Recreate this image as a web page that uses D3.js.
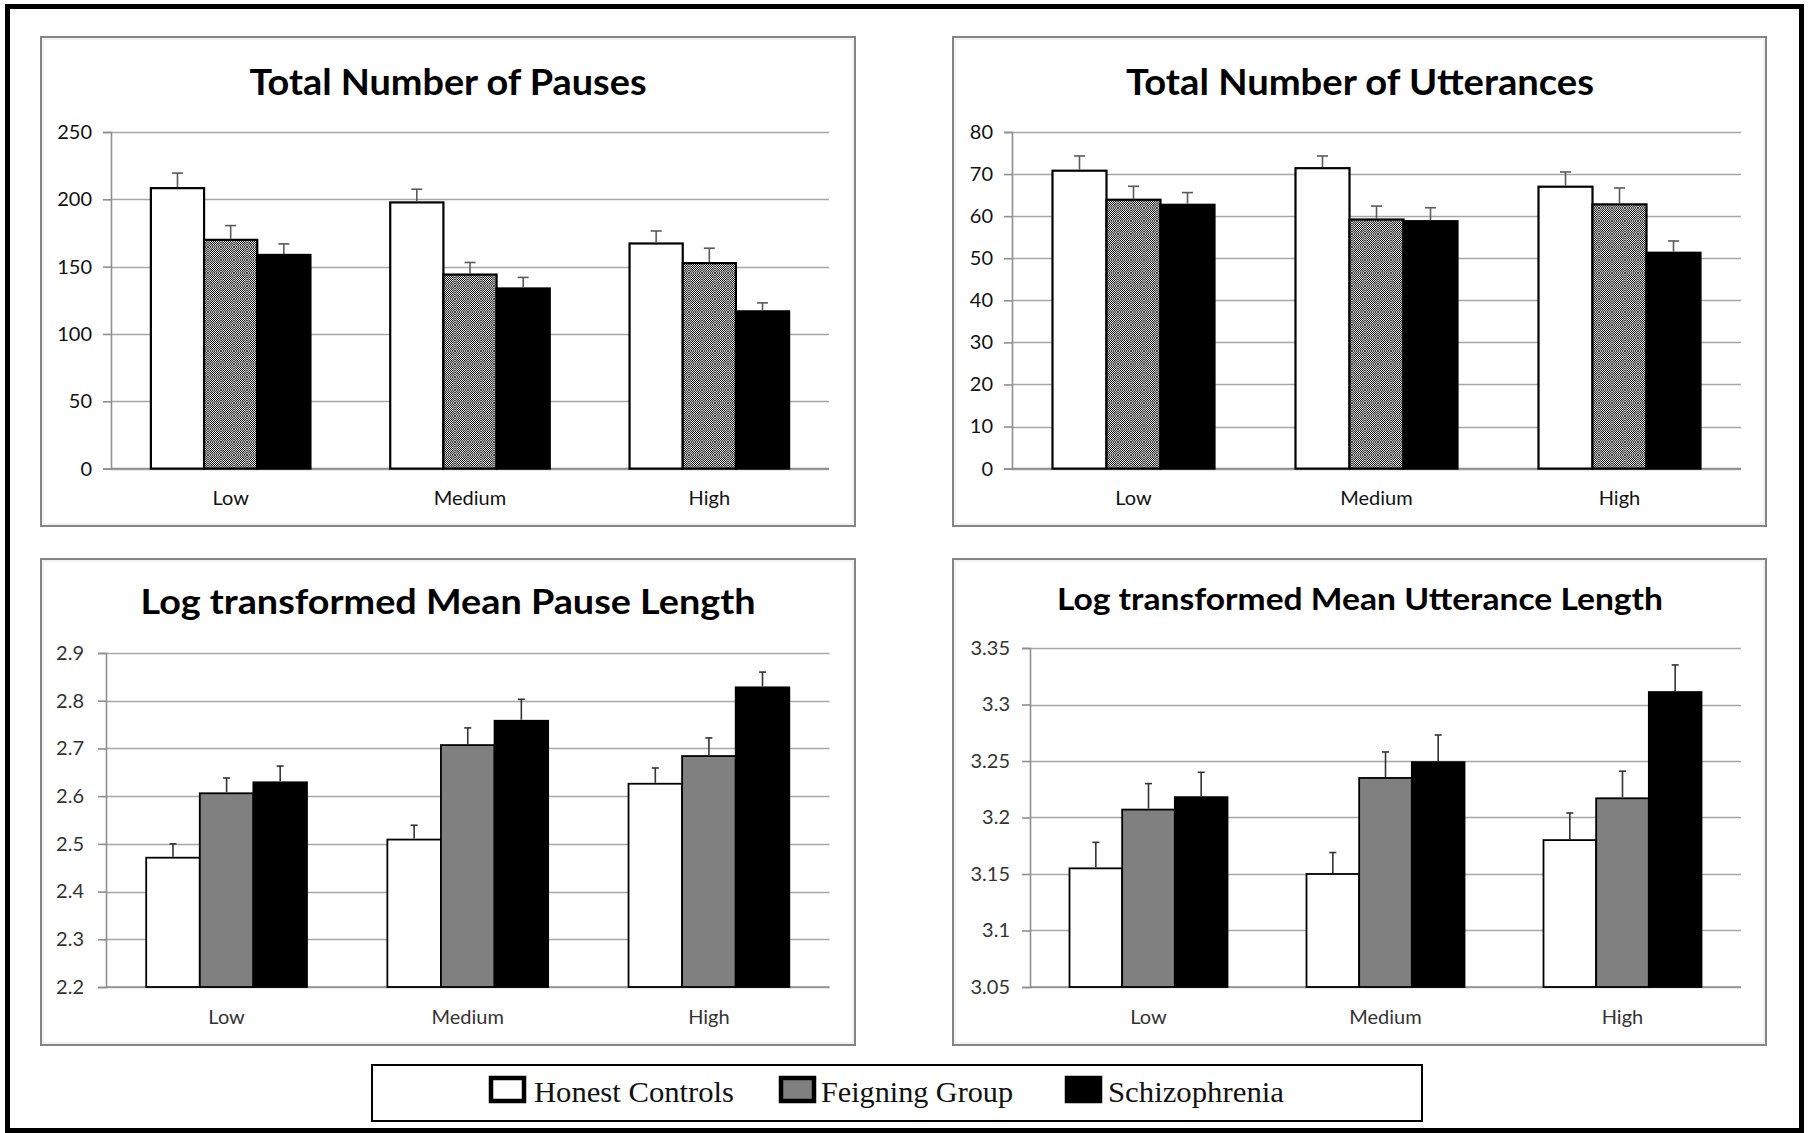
<!DOCTYPE html>
<html><head><meta charset="utf-8">
<script src="https://cdn.jsdelivr.net/npm/d3@7"></script>
<style>body{margin:0;background:#fff}</style>
</head><body><svg id="c" width="1809" height="1133" xmlns="http://www.w3.org/2000/svg"></svg>
<script>
// ---------- data ----------
const categories = ["Low", "Medium", "High"];
const seriesNames = ["Honest Controls", "Feigning Group", "Schizophrenia"];

const pausesTitle = "Total Number of Pauses";
const pausesTicks = [0, 50, 100, 150, 200, 250];
const pausesHonest = [208.3, 197.7, 167.2];
const pausesFeigning = [169.9, 144.1, 152.6];
const pausesSchizo = [158.7, 133.8, 116.8];
const pausesHonestErr = [11.2, 9.8, 9.3];
const pausesFeigningErr = [10.6, 9.0, 11.1];
const pausesSchizoErr = [8.2, 8.2, 6.3];

const uttTitle = "Total Number of Utterances";
const uttTicks = [0, 10, 20, 30, 40, 50, 60, 70, 80];
const uttHonest = [70.8, 71.4, 67.0];
const uttFeigning = [63.9, 59.2, 62.8];
const uttSchizo = [62.7, 58.8, 51.3];
const uttHonestErr = [3.5, 2.9, 3.5];
const uttFeigningErr = [3.2, 3.2, 3.9];
const uttSchizoErr = [2.9, 3.2, 2.8];

const pauseLenTitle = "Log transformed Mean Pause Length";
const pauseLenTicks = [2.2, 2.3, 2.4, 2.5, 2.6, 2.7, 2.8, 2.9];
const pauseLenHonest = [2.471, 2.509, 2.626];
const pauseLenFeigning = [2.606, 2.707, 2.684];
const pauseLenSchizo = [2.629, 2.758, 2.828];
const pauseLenHonestErr = [0.029, 0.030, 0.033];
const pauseLenFeigningErr = [0.032, 0.036, 0.038];
const pauseLenSchizoErr = [0.034, 0.045, 0.032];

const uttLenTitle = "Log transformed Mean Utterance Length";
const uttLenTicks = [3.05, 3.1, 3.15, 3.2, 3.25, 3.3, 3.35];
const uttLenHonest = [3.155, 3.150, 3.180];
const uttLenFeigning = [3.207, 3.235, 3.217];
const uttLenSchizo = [3.218, 3.249, 3.311];
const uttLenHonestErr = [0.023, 0.019, 0.024];
const uttLenFeigningErr = [0.023, 0.023, 0.024];
const uttLenSchizoErr = [0.022, 0.024, 0.024];

// ---------- drawing ----------
const svg = d3.select("#c");
const defs = svg.append("defs");
function checker(id, a, b) {
  const p = defs.append("pattern").attr("id", id).attr("width", 2).attr("height", 2)
    .attr("patternUnits", "userSpaceOnUse");
  p.append("rect").attr("width", 2).attr("height", 2).attr("fill", b);
  p.append("rect").attr("width", 1).attr("height", 1).attr("fill", a);
  p.append("rect").attr("x", 1).attr("y", 1).attr("width", 1).attr("height", 1).attr("fill", a);
}
checker("chkA", "#000", "#fff");
checker("chkB", "#474747", "#b8b8b8");
const dp = defs.append("pattern").attr("id", "dots").attr("width", 13).attr("height", 13)
  .attr("patternUnits", "userSpaceOnUse");
dp.append("rect").attr("width", 13).attr("height", 13).attr("fill", "url(#chkB)");
dp.append("circle").attr("cx", 6.5).attr("cy", 6.5).attr("r", 4.6).attr("fill", "url(#chkA)");

svg.append("rect").attr("width", 1809).attr("height", 1133).attr("fill", "#fff");
svg.append("rect").attr("x", 7.5).attr("y", 6.5).attr("width", 1794).attr("height", 1124)
  .attr("fill", "none").attr("stroke", "#000").attr("stroke-width", 5);

const FONT = "Lato, 'Open Sans', sans-serif";

function drawPanel(cfg) {
  const g = svg.append("g");
  g.append("rect").attr("x", cfg.box[0]).attr("y", cfg.box[1])
    .attr("width", cfg.box[2] - cfg.box[0]).attr("height", cfg.box[3] - cfg.box[1])
    .attr("fill", "#fff").attr("stroke", "#858585").attr("stroke-width", 2);
  g.append("rect").attr("x", cfg.box[0] + 2).attr("y", cfg.box[1] + 2)
    .attr("width", cfg.box[2] - cfg.box[0] - 4).attr("height", cfg.box[3] - cfg.box[1] - 4)
    .attr("fill", "none").attr("stroke", "#e4e4e4").attr("stroke-width", 1);

  // title
  g.append("text").attr("x", cfg.titleX - cfg.titleW / 2).attr("y", cfg.titleY)
    .attr("textLength", cfg.titleW).attr("lengthAdjust", "spacingAndGlyphs")
    .style("font-family", FONT).style("font-weight", "bold").style("font-size", cfg.titleSize + "px")
    .attr("fill", "#000").text(cfg.title);

  const x0 = d3.scaleBand().domain(categories).range([cfg.left, cfg.right])
    .paddingInner(1 / 3).paddingOuter(1 / 6);
  const x1 = d3.scaleBand().domain(seriesNames).range([0, x0.bandwidth()]);
  const y = d3.scaleLinear().domain([cfg.ticks[0], cfg.ticks[cfg.ticks.length - 1]])
    .range([cfg.bottom, cfg.top]);

  // grid lines
  g.append("g").selectAll("line").data(cfg.ticks).join("line")
    .attr("x1", cfg.left).attr("x2", cfg.right)
    .attr("y1", d => Math.round(y(d)) + 0.5).attr("y2", d => Math.round(y(d)) + 0.5)
    .attr("stroke", "#a6a6a6").attr("stroke-width", 1.6);

  // y axis
  const ax = g.append("g").attr("transform", `translate(${cfg.left},0)`)
    .call(d3.axisLeft(y).tickValues(cfg.ticks).tickSize(8).tickPadding(cfg.tickPad)
      .tickFormat(d => String(d)));
  ax.select(".domain").attr("stroke", "#8f8f8f").attr("stroke-width", 1.6);
  ax.selectAll(".tick line").attr("stroke", "#8f8f8f").attr("stroke-width", 1.6);
  ax.selectAll(".tick text").style("font-family", FONT).style("font-size", cfg.tickSize + "px")
    .attr("fill", cfg.tickColor);

  // x axis line
  g.append("line").attr("x1", cfg.left).attr("x2", cfg.right)
    .attr("y1", y(cfg.ticks[0])).attr("y2", y(cfg.ticks[0]))
    .attr("stroke", "#8f8f8f").attr("stroke-width", 1.6);

  // category labels
  g.append("g").selectAll("text").data(categories).join("text")
    .attr("x", d => x0(d) + x0.bandwidth() / 2).attr("y", cfg.catY)
    .attr("text-anchor", "middle").style("font-family", FONT).style("font-size", cfg.tickSize + "px")
    .attr("fill", cfg.tickColor).text(d => d);

  // bars
  const rows = [];
  categories.forEach((c, i) => {
    seriesNames.forEach((s, j) => {
      rows.push({ c, s, j, v: cfg.values[j][i], e: cfg.errors[j][i] });
    });
  });
  const fills = ["#fff", cfg.grayFill, "#000"];
  g.append("g").selectAll("rect").data(rows).join("rect")
    .attr("x", d => x0(d.c) + x1(d.s))
    .attr("y", d => y(d.v))
    .attr("width", x1.bandwidth())
    .attr("height", d => y(cfg.ticks[0]) - y(d.v))
    .attr("fill", d => fills[d.j])
    .attr("stroke", "#000").attr("stroke-width", cfg.barStroke);

  // error bars (upper only)
  const eb = g.append("g").attr("stroke", cfg.errColor).attr("stroke-width", 1.6);
  eb.selectAll("line.stem").data(rows).join("line").attr("class", "stem")
    .attr("x1", d => x0(d.c) + x1(d.s) + x1.bandwidth() / 2)
    .attr("x2", d => x0(d.c) + x1(d.s) + x1.bandwidth() / 2)
    .attr("y1", d => y(d.v) - 1).attr("y2", d => y(d.v + d.e));
  eb.selectAll("line.cap").data(rows).join("line").attr("class", "cap")
    .attr("x1", d => x0(d.c) + x1(d.s) + x1.bandwidth() / 2 - cfg.capW / 2)
    .attr("x2", d => x0(d.c) + x1(d.s) + x1.bandwidth() / 2 + cfg.capW / 2)
    .attr("y1", d => y(d.v + d.e)).attr("y2", d => y(d.v + d.e));
}

drawPanel({
  box: [41, 37, 855, 526], title: pausesTitle, titleX: 448, titleY: 95, titleW: 397, titleSize: 36,
  left: 111, right: 829, top: 132, bottom: 468.6, ticks: pausesTicks, tickPad: 11, tickSize: 20,
  tickColor: "#111", catY: 505, grayFill: "url(#dots)", barStroke: 2.2, errColor: "#5a5a5a", capW: 11,
  values: [pausesHonest, pausesFeigning, pausesSchizo],
  errors: [pausesHonestErr, pausesFeigningErr, pausesSchizoErr]
});
drawPanel({
  box: [953, 37, 1766, 526], title: uttTitle, titleX: 1360, titleY: 95, titleW: 468, titleSize: 36,
  left: 1012, right: 1741, top: 132, bottom: 468.6, ticks: uttTicks, tickPad: 11, tickSize: 20,
  tickColor: "#111", catY: 505, grayFill: "url(#dots)", barStroke: 2.2, errColor: "#5a5a5a", capW: 11,
  values: [uttHonest, uttFeigning, uttSchizo],
  errors: [uttHonestErr, uttFeigningErr, uttSchizoErr]
});
drawPanel({
  box: [41, 559, 855, 1045], title: pauseLenTitle, titleX: 448, titleY: 614, titleW: 615, titleSize: 34,
  left: 106, right: 829.5, top: 653, bottom: 987, ticks: pauseLenTicks, tickPad: 14, tickSize: 20,
  tickColor: "#333", catY: 1024, grayFill: "#808080", barStroke: 1.8, errColor: "#333", capW: 7,
  values: [pauseLenHonest, pauseLenFeigning, pauseLenSchizo],
  errors: [pauseLenHonestErr, pauseLenFeigningErr, pauseLenSchizoErr]
});
drawPanel({
  box: [953, 559, 1766, 1045], title: uttLenTitle, titleX: 1360, titleY: 610, titleW: 606, titleSize: 30,
  left: 1030, right: 1741, top: 648, bottom: 987, ticks: uttLenTicks, tickPad: 12, tickSize: 20,
  tickColor: "#333", catY: 1024, grayFill: "#808080", barStroke: 1.8, errColor: "#333", capW: 7,
  values: [uttLenHonest, uttLenFeigning, uttLenSchizo],
  errors: [uttLenHonestErr, uttLenFeigningErr, uttLenSchizoErr]
});

// ---------- legend ----------
const lg = svg.append("g");
lg.append("rect").attr("x", 372).attr("y", 1065).attr("width", 1050).attr("height", 56)
  .attr("fill", "#fff").attr("stroke", "#000").attr("stroke-width", 2);
const legendSwatchX = [491, 781, 1067];
const legendTextX = [534, 821, 1108];
const legendTextW = [200, 192, 176];
const legendFills = ["#fff", "#808080", "#000"];
seriesNames.forEach((s, i) => {
  lg.append("rect").attr("x", legendSwatchX[i]).attr("y", 1078).attr("width", 33).attr("height", 23)
    .attr("fill", legendFills[i]).attr("stroke", "#000").attr("stroke-width", 4.5);
  lg.append("text").attr("x", legendTextX[i]).attr("y", 1102)
    .attr("textLength", legendTextW[i]).attr("lengthAdjust", "spacingAndGlyphs")
    .style("font-family", "'Liberation Serif', 'DejaVu Serif', serif").style("font-size", "30px")
    .attr("fill", "#111").text(s);
});
</script></body></html>
